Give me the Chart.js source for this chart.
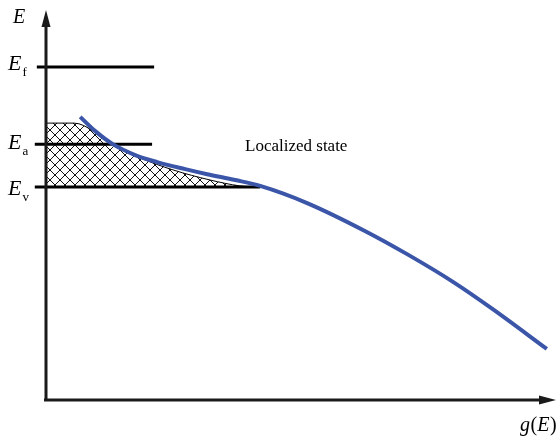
<!DOCTYPE html>
<html>
<head>
<meta charset="utf-8">
<script src="https://cdn.jsdelivr.net/npm/chart.js@4"></script>
<style>
  body { margin: 0; background: #fff; }
  #wrap { width: 558px; height: 443px; position: relative; }
</style>
</head>
<body>
<div id="wrap"><canvas id="dosChart"></canvas></div>
<script>
// Energy levels (arbitrary units, axis runs 0..100)
const levelNames = ['f', 'a', 'v'];
const levelEnergy = [85.4, 65.6, 54.6];
const levelStart = [-1.8, -2.2, -2.2];
const levelEnd = [21.2, 20.8, 42.0];

// Density of states g(E), blue curve
const dosG = [6.7, 9.6, 13.1, 17.5, 21.8, 27.3, 31.6, 37.1, 42.0, 51.2, 62.9, 70.8, 79.8, 87.6, 98.2];
const dosE = [72.6, 69.0, 65.6, 62.8, 61.0, 59.2, 57.9, 56.4, 54.9, 50.5, 43.1, 37.4, 30.3, 23.3, 13.1];

// Edge of the localized tail (hatched area, filled down to Ev)
const tailG = [0, 5.5, 13.1, 18.4, 24.9, 32.2, 38.0, 41.2];
const tailE = [71.0, 71.0, 65.4, 62.1, 59.0, 56.4, 54.9, 54.6];

const toPoints = (xs, ys) => xs.map((x, i) => ({ x: x, y: ys[i] }));

// Cross-hatch fill
function makeHatch() {
    const size = 10;
    const c = document.createElement('canvas');
    c.width = size;
    c.height = size;
    const g = c.getContext('2d');
    g.strokeStyle = '#111';
    g.lineWidth = 1;
    g.beginPath();
    g.moveTo(-1, -1); g.lineTo(size + 1, size + 1);
    g.moveTo(size + 1, -1); g.lineTo(-1, size + 1);
    g.stroke();
    return g.createPattern(c, 'repeat');
}

const datasets = [];

datasets.push({
    data: toPoints(dosG, dosE),
    borderColor: '#3b56a8',
    borderWidth: 4,
    pointRadius: 0,
    cubicInterpolationMode: 'monotone',
    fill: false,
    order: 0
});

levelEnergy.forEach((e, i) => {
    datasets.push({
        data: [{ x: levelStart[i], y: e }, { x: levelEnd[i], y: e }],
        borderColor: '#000',
        borderWidth: 3,
        pointRadius: 0,
        fill: false,
        clip: false,
        order: 1
    });
});

datasets.push({
    data: toPoints(tailG, tailE),
    borderColor: '#000',
    borderWidth: 1,
    backgroundColor: makeHatch(),
    pointRadius: 0,
    cubicInterpolationMode: 'monotone',
    fill: { value: levelEnergy[2] },
    order: 2
});

// Axes with arrows, plus the labels
const sketchPlugin = {
    id: 'sketch',
    afterDatasetsDraw(chart) {
        const ctx = chart.ctx;
        const xs = chart.scales.x;
        const ys = chart.scales.y;
        const x0 = xs.getPixelForValue(0);
        const y0 = ys.getPixelForValue(0);
        const xTip = xs.getPixelForValue(100);
        const yTip = ys.getPixelForValue(100);

        ctx.save();
        ctx.strokeStyle = '#1a1a1a';
        ctx.fillStyle = '#1a1a1a';
        ctx.lineWidth = 3;
        ctx.beginPath();
        ctx.moveTo(x0, y0 + 1);
        ctx.lineTo(x0, yTip + 14);
        ctx.moveTo(x0 - 2, y0);
        ctx.lineTo(xTip - 14, y0);
        ctx.stroke();

        ctx.beginPath();
        ctx.moveTo(x0, yTip);
        ctx.lineTo(x0 - 4.5, yTip + 17);
        ctx.lineTo(x0 + 4.5, yTip + 17);
        ctx.closePath();
        ctx.fill();

        ctx.beginPath();
        ctx.moveTo(xTip, y0);
        ctx.lineTo(xTip - 17, y0 - 4.5);
        ctx.lineTo(xTip - 17, y0 + 4.5);
        ctx.closePath();
        ctx.fill();

        ctx.fillStyle = '#000';
        ctx.textBaseline = 'alphabetic';
        ctx.textAlign = 'left';

        ctx.font = 'italic 20px "Liberation Serif"';
        ctx.fillText('E', 13, 23);

        // label baselines sit a little lower for each level down
        const drop = [3, 5, 8];
        levelNames.forEach((name, i) => {
            const py = ys.getPixelForValue(levelEnergy[i]) + drop[i];
            ctx.font = 'italic 22px "Liberation Serif"';
            ctx.fillText('E', 8, py);
            const w = ctx.measureText('E').width;
            ctx.font = '13px "Liberation Serif"';
            ctx.fillText(name, 8 + w + 1, py + 6);
        });

        ctx.font = '17px "Liberation Serif"';
        ctx.fillText('Localized state', 245, 151);

        // g(E)
        let gx = 520;
        const gy = 431;
        const parts = [['g', true], ['(', false], ['E', true], [')', false]];
        parts.forEach(([t, it]) => {
            ctx.font = (it ? 'italic ' : '') + '20px "Liberation Serif"';
            ctx.fillText(t, gx, gy);
            gx += ctx.measureText(t).width + (it ? 0.5 : 0);
        });
        ctx.restore();
    }
};

new Chart(document.getElementById('dosChart').getContext('2d'), {
    type: 'line',
    data: { datasets: datasets },
    options: {
        responsive: true,
        maintainAspectRatio: false,
        animation: false,
        layout: { padding: { left: 46, right: 2, top: 10, bottom: 43 } },
        plugins: {
            legend: { display: false },
            tooltip: { enabled: false }
        },
        scales: {
            x: { type: 'linear', min: 0, max: 100, display: false },
            y: { type: 'linear', min: 0, max: 100, display: false }
        }
    },
    plugins: [sketchPlugin]
});
</script>
</body>
</html>
